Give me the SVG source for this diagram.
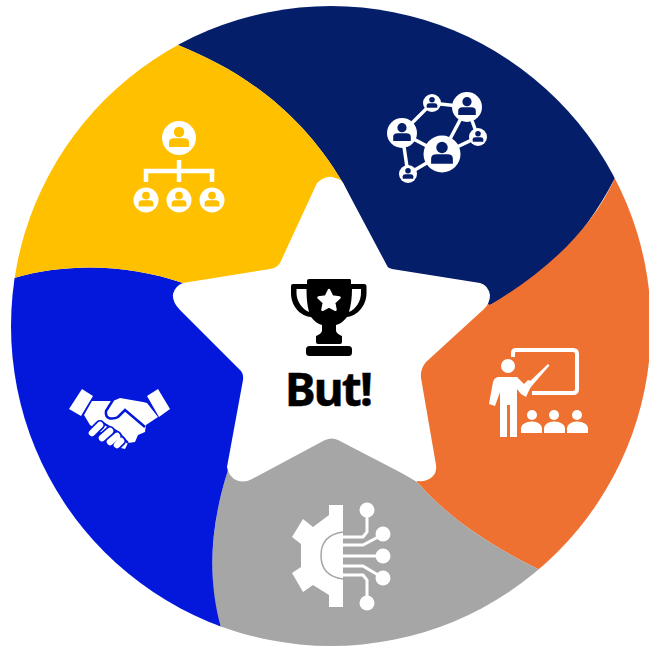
<svg xmlns="http://www.w3.org/2000/svg" width="649" height="647" viewBox="0 0 649 647">
<defs>
<style>
.w{fill:#fff}
.l{fill:none;stroke:#fff}
</style>
<clipPath id="disc"><circle cx="331" cy="326" r="320"/></clipPath>
<g id="p"><circle cx="0" cy="-4.800" r="4.200" fill="currentColor"/><path d="M-8 7.200V3.500Q-8 .2-4 .2H4Q8 .2 8 3.500V7.200Z" fill="currentColor"/></g>
</defs>
<rect width="649" height="647" fill="#fff"/>
<g id="segments" clip-path="url(#disc)">
<path id="seg-navy" fill="#041e6a" d="M178 45L150 0H660V155L615 178C580 245 540 280 490 305L400 290L343 183C300 110 240 70 178 45Z"/>
<path id="seg-orange" fill="#ef7132" d="M615 178L670 150V647L540 570C495 548 450 520 417 482L400 360L480 300L490 305C545 272 590 232 615 178Z"/>
<path id="seg-grey" fill="#a6a6a6" d="M540 570L600 647H221C208 580 209 530 228 470L330 430L417 482C450 520 495 548 540 570Z"/>
<path id="seg-blue" fill="#0418dc" d="M221 628L225 647H0V278H14C70 262 130 265 183 283L260 340L240 400L228 470C209 530 208 580 221 628Z"/>
<path id="seg-yellow" fill="#ffc000" d="M14 278H0V0H150L178 45C240 70 300 110 343 183L300 290L183 283C130 265 70 262 14 278Z"/>
</g>
<g id="star">
<path fill="#fff" d="M317 183Q327 174 335 178Q341 179 343 183L382 260Q385 267 392 269L480 283Q488 285 490 295Q490 303 484 309L426 362Q420 369 421 378L436 465Q437 473 432 477Q427 482 417 481L338 440Q332 437 325 440L252 479Q243 484 234 479Q228 474 227 467L243 380Q244 373 239 369L180 310Q172 302 173 294Q175 286 183 283L270 269Q277 268 280 263Z"/>
</g>
<g id="trophy">
<path fill="#000" d="M309 279H350Q351 279 351 281V284H364Q366.500 284 366.500 286V293C366.500 306 357 316 347 317C344 321 340 324 336 325V331C337 334 340 335 342 336V342Q342 344 340 344H318Q316 344 316 342V336C318 335 321 334 322 331V325C318 324 314 321 311 317C300 316 291 306 291 293V286Q291 284 293 284H307V281Q307 279 309 279ZM296.500 289V293C296.500 301 302 309 309 312C307 305 306.500 297 306.500 289ZM352 289C352 297 351 305 349 312C356 309 361 301 361 293V289Z"/>
<rect x="306" y="346" width="46" height="10" rx="3.500" fill="#000"/>
<path fill="#fff" stroke="#fff" stroke-width="2.500" stroke-linejoin="round" d="M329 290L332.200 296.500L339.500 297.500L334.200 302.600L335.500 309.800L329 306.400L322.500 309.800L323.800 302.600L318.500 297.500L325.800 296.500Z"/>
</g>
<text id="label" x="328" y="405.500" text-anchor="middle" font-family="'Noto Sans','Open Sans',sans-serif" font-weight="700" font-size="46" letter-spacing="-1.800" stroke="#000" stroke-width=".5" fill="#000">But!</text>
<g id="icon-network" color="#041e6a">
<path class="l" stroke-width="3.500" d="M402 133L432 103L467 107L442 154L402 133L408 174L442 154L478 137L467 107"/>
<circle class="w" cx="402" cy="133" r="15"/><circle class="w" cx="432" cy="103" r="9"/><circle class="w" cx="467" cy="107" r="15"/><circle class="w" cx="478" cy="137" r="9"/><circle class="w" cx="442" cy="154" r="18.500"/><circle class="w" cx="408" cy="174" r="9"/>
<use href="#p" transform="translate(402 133) scale(1.100)"/><use href="#p" transform="translate(432 103) scale(.66)"/><use href="#p" transform="translate(467 107) scale(1.100)"/><use href="#p" transform="translate(478 137) scale(.66)"/><use href="#p" transform="translate(442 154) scale(1.360)"/><use href="#p" transform="translate(408 174) scale(.66)"/>
</g>
<g id="icon-org" color="#ffc000">
<path class="l" stroke-width="4.500" d="M179 160V182M146 182V171H212V182"/>
<circle class="w" cx="179" cy="138" r="17"/><circle class="w" cx="146" cy="200" r="12.500"/><circle class="w" cx="179" cy="200" r="12.500"/><circle class="w" cx="212" cy="200" r="12.500"/>
<use href="#p" transform="translate(179 138) scale(1.250)"/><use href="#p" transform="translate(146 200) scale(.92)"/><use href="#p" transform="translate(179 200) scale(.92)"/><use href="#p" transform="translate(212 200) scale(.92)"/>
</g>
<g id="icon-teacher">
<path class="l" stroke-width="4" d="M513 357V353Q513 350 516 350H573Q577 350 577 354V389Q577 393 573 393H532"/>
<circle class="w" cx="508" cy="366" r="7"/>
<path class="w" d="M498 377H517L524 384L528 380L533 382L526 397L521 394L517 389V437H510V405H507V437H500V392L495 406L489 404L493 382Q494 378 498 377Z"/>
<path class="w" d="M527 384L548 364L549.500 365.500L530 388Z"/>
<g class="w"><circle cx="532" cy="415" r="5"/><path d="M521 433V428Q522 422 532 421.500Q541 422 542 428V433Z"/><circle cx="554" cy="415" r="5"/><path d="M544 433V428Q545 422 554 421.500Q564 422 565 428V433Z"/><circle cx="577" cy="415" r="5"/><path d="M567 433V428Q568 422 577 421.500Q587 422 588 428V433Z"/></g>
</g>
<g id="icon-ai">
<path class="w" d="M329 505H343V607H329V595L313 585L303 592L292 573L301 567V544L292 537L303 519L313 527L329 515Z"/>
<path d="M343 532Q321 535 321 555.500Q321 576 343 579" fill="none" stroke="#a6a6a6" stroke-width="1.500"/>
<path class="l" stroke-width="3" d="M343 537H363L367 532V515M343 545H363L378 537M343 556H380M343 566H363L378 575M343 575H363L367 580V597"/>
<g class="w"><circle cx="367" cy="510" r="7.500"/><circle cx="383" cy="534" r="7.500"/><circle cx="383" cy="556" r="7.500"/><circle cx="383" cy="578" r="7.500"/><circle cx="367" cy="603" r="7.500"/></g>
</g>
<g id="icon-handshake">
<path class="w" d="M82 389L93 396L81 416L69 409Z"/>
<path class="w" d="M158 389L170 409L159 417L147 396Z"/>
<path class="w" d="M92 401L113 401L120 398L143 402L147 403L158 417L146 425L145 432L138 435L135 442L128 443L125 449L121 448L112 440L90 425L84 415Z"/>
<path fill="none" stroke="#0418dc" stroke-width="2.500" d="M113 400L106 411Q105 417 110 418.500Q115 419 118 417L125 410L145 427"/>
<path fill="none" stroke="#0418dc" stroke-width="2.200" d="M103 423L118 432L128 443"/>
<g fill="none" stroke="#0418dc" stroke-width="10" stroke-linecap="round"><path d="M92 433L100 425M102 438L110 431M110 442L117 436M117 445L121 441"/></g>
<g fill="none" stroke="#fff" stroke-width="6.500" stroke-linecap="round"><path d="M92 433L100 425M102 438L110 431M110 442L117 436M117 445L121 441"/></g>
</g>
</svg>
